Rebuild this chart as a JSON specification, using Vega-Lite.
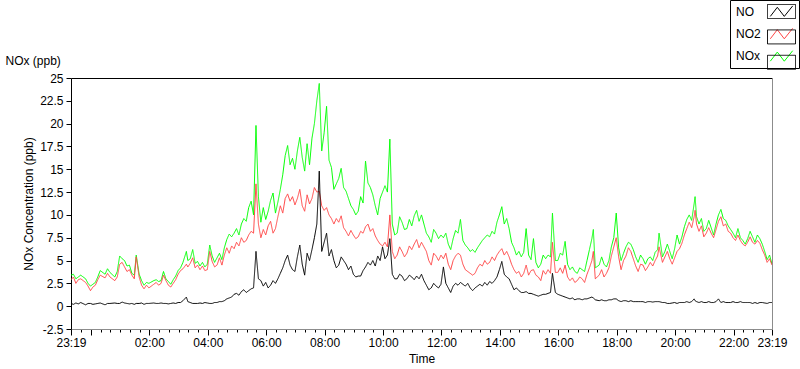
{
  "$schema": "https://vega.github.io/schema/vega-lite/v6.json",
  "width": 701,
  "height": 251,
  "autosize": "none",
  "padding": {"left": 71, "top": 78, "right": 28, "bottom": 40},
  "background": "white",
  "data": {"values": [
    {"t":"2024-01-01T23:19","NO":0.3,"NO2":2.9,"NOx":3.4},
    {"t":"2024-01-01T23:24","NO":0.2,"NO2":3.2,"NOx":3.5},
    {"t":"2024-01-01T23:29","NO":0.35,"NO2":2.5,"NOx":3.0},
    {"t":"2024-01-01T23:34","NO":0.25,"NO2":2.9,"NOx":3.2},
    {"t":"2024-01-01T23:39","NO":0.4,"NO2":3.0,"NOx":3.4},
    {"t":"2024-01-01T23:49","NO":0.15,"NO2":2.6,"NOx":3.0},
    {"t":"2024-01-01T23:54","NO":0.3,"NO2":2.2,"NOx":2.5},
    {"t":"2024-01-01T23:59","NO":0.3,"NO2":1.7,"NOx":2.2},
    {"t":"2024-01-02T00:04","NO":0.2,"NO2":2.1,"NOx":2.4},
    {"t":"2024-01-02T00:09","NO":0.25,"NO2":2.3,"NOx":2.6},
    {"t":"2024-01-02T00:14","NO":0.3,"NO2":2.9,"NOx":3.2},
    {"t":"2024-01-02T00:19","NO":0.35,"NO2":3.4,"NOx":3.9},
    {"t":"2024-01-02T00:29","NO":0.15,"NO2":3.1,"NOx":3.5},
    {"t":"2024-01-02T00:34","NO":0.3,"NO2":3.6,"NOx":4.1},
    {"t":"2024-01-02T00:39","NO":0.3,"NO2":3.2,"NOx":3.7},
    {"t":"2024-01-02T00:49","NO":0.35,"NO2":2.8,"NOx":3.2},
    {"t":"2024-01-02T00:54","NO":0.3,"NO2":3.2,"NOx":3.8},
    {"t":"2024-01-02T00:59","NO":0.3,"NO2":4.6,"NOx":5.5},
    {"t":"2024-01-02T01:04","NO":0.45,"NO2":4.8,"NOx":5.2},
    {"t":"2024-01-02T01:09","NO":0.35,"NO2":4.3,"NOx":5.0},
    {"t":"2024-01-02T01:14","NO":0.3,"NO2":3.8,"NOx":4.4},
    {"t":"2024-01-02T01:19","NO":0.25,"NO2":4.0,"NOx":4.5},
    {"t":"2024-01-02T01:24","NO":0.3,"NO2":3.4,"NOx":3.6},
    {"t":"2024-01-02T01:29","NO":0.2,"NO2":3.0,"NOx":3.4},
    {"t":"2024-01-02T01:33","NO":0.3,"NO2":5.4,"NOx":5.6},
    {"t":"2024-01-02T01:39","NO":0.3,"NO2":3.2,"NOx":3.5},
    {"t":"2024-01-02T01:44","NO":0.35,"NO2":2.3,"NOx":2.8},
    {"t":"2024-01-02T01:49","NO":0.2,"NO2":1.9,"NOx":2.3},
    {"t":"2024-01-02T01:54","NO":0.3,"NO2":2.3,"NOx":2.6},
    {"t":"2024-01-02T01:59","NO":0.3,"NO2":2.0,"NOx":2.5},
    {"t":"2024-01-02T02:09","NO":0.35,"NO2":2.4,"NOx":2.8},
    {"t":"2024-01-02T02:14","NO":0.3,"NO2":2.6,"NOx":2.9},
    {"t":"2024-01-02T02:19","NO":0.3,"NO2":2.3,"NOx":2.7},
    {"t":"2024-01-02T02:24","NO":0.35,"NO2":2.5,"NOx":2.8},
    {"t":"2024-01-02T02:29","NO":0.3,"NO2":3.4,"NOx":3.8},
    {"t":"2024-01-02T02:34","NO":0.3,"NO2":2.8,"NOx":3.0},
    {"t":"2024-01-02T02:39","NO":0.25,"NO2":2.3,"NOx":2.7},
    {"t":"2024-01-02T02:44","NO":0.3,"NO2":2.1,"NOx":2.4},
    {"t":"2024-01-02T02:49","NO":0.35,"NO2":2.5,"NOx":2.9},
    {"t":"2024-01-02T02:54","NO":0.3,"NO2":2.9,"NOx":3.3},
    {"t":"2024-01-02T02:59","NO":0.4,"NO2":3.5,"NOx":3.9},
    {"t":"2024-01-02T03:04","NO":0.4,"NO2":3.9,"NOx":4.2},
    {"t":"2024-01-02T03:09","NO":0.6,"NO2":4.1,"NOx":4.8},
    {"t":"2024-01-02T03:16","NO":1.0,"NO2":4.6,"NOx":6.0},
    {"t":"2024-01-02T03:19","NO":0.5,"NO2":4.3,"NOx":5.0},
    {"t":"2024-01-02T03:24","NO":0.4,"NO2":4.7,"NOx":5.2},
    {"t":"2024-01-02T03:29","NO":0.3,"NO2":5.3,"NOx":6.2},
    {"t":"2024-01-02T03:34","NO":0.3,"NO2":4.2,"NOx":4.7},
    {"t":"2024-01-02T03:39","NO":0.3,"NO2":4.5,"NOx":4.9},
    {"t":"2024-01-02T03:44","NO":0.35,"NO2":4.0,"NOx":4.4},
    {"t":"2024-01-02T03:49","NO":0.3,"NO2":4.4,"NOx":4.8},
    {"t":"2024-01-02T03:54","NO":0.4,"NO2":3.9,"NOx":4.3},
    {"t":"2024-01-02T03:59","NO":0.35,"NO2":4.0,"NOx":4.6},
    {"t":"2024-01-02T04:04","NO":0.3,"NO2":6.0,"NOx":6.7},
    {"t":"2024-01-02T04:09","NO":0.3,"NO2":4.9,"NOx":5.5},
    {"t":"2024-01-02T04:14","NO":0.4,"NO2":4.3,"NOx":4.8},
    {"t":"2024-01-02T04:19","NO":0.4,"NO2":4.5,"NOx":5.3},
    {"t":"2024-01-02T04:24","NO":0.5,"NO2":5.3,"NOx":5.8},
    {"t":"2024-01-02T04:29","NO":0.5,"NO2":4.5,"NOx":5.1},
    {"t":"2024-01-02T04:34","NO":0.6,"NO2":5.6,"NOx":6.4},
    {"t":"2024-01-02T04:39","NO":0.8,"NO2":6.4,"NOx":7.3},
    {"t":"2024-01-02T04:44","NO":0.9,"NO2":5.8,"NOx":7.9},
    {"t":"2024-01-02T04:49","NO":1.0,"NO2":6.6,"NOx":7.6},
    {"t":"2024-01-02T04:54","NO":1.3,"NO2":6.3,"NOx":8.0},
    {"t":"2024-01-02T04:59","NO":1.4,"NO2":7.0,"NOx":8.5},
    {"t":"2024-01-02T05:04","NO":1.2,"NO2":6.6,"NOx":7.8},
    {"t":"2024-01-02T05:09","NO":1.6,"NO2":7.5,"NOx":9.0},
    {"t":"2024-01-02T05:14","NO":1.8,"NO2":7.0,"NOx":9.6},
    {"t":"2024-01-02T05:19","NO":1.5,"NO2":7.2,"NOx":9.3},
    {"t":"2024-01-02T05:24","NO":1.7,"NO2":7.8,"NOx":10.8},
    {"t":"2024-01-02T05:29","NO":1.9,"NO2":8.2,"NOx":11.5},
    {"t":"2024-01-02T05:34","NO":2.0,"NO2":8.0,"NOx":10.0},
    {"t":"2024-01-02T05:39","NO":6.0,"NO2":13.4,"NOx":19.8},
    {"t":"2024-01-02T05:44","NO":3.0,"NO2":9.0,"NOx":12.0},
    {"t":"2024-01-02T05:49","NO":2.8,"NO2":7.5,"NOx":9.2},
    {"t":"2024-01-02T05:54","NO":2.2,"NO2":8.4,"NOx":10.8},
    {"t":"2024-01-02T05:59","NO":2.6,"NO2":7.8,"NOx":9.5},
    {"t":"2024-01-02T06:04","NO":2.0,"NO2":8.8,"NOx":10.4},
    {"t":"2024-01-02T06:09","NO":2.3,"NO2":9.3,"NOx":11.6},
    {"t":"2024-01-02T06:14","NO":2.8,"NO2":8.0,"NOx":12.4},
    {"t":"2024-01-02T06:19","NO":2.5,"NO2":8.5,"NOx":10.2},
    {"t":"2024-01-02T06:24","NO":3.0,"NO2":9.8,"NOx":11.4},
    {"t":"2024-01-02T06:29","NO":3.6,"NO2":11.0,"NOx":12.8},
    {"t":"2024-01-02T06:34","NO":4.2,"NO2":10.2,"NOx":14.4},
    {"t":"2024-01-02T06:39","NO":5.0,"NO2":11.8,"NOx":16.5},
    {"t":"2024-01-02T06:44","NO":5.6,"NO2":12.3,"NOx":17.6},
    {"t":"2024-01-02T06:49","NO":4.5,"NO2":11.5,"NOx":15.5},
    {"t":"2024-01-02T06:54","NO":4.0,"NO2":12.0,"NOx":16.2},
    {"t":"2024-01-02T06:59","NO":3.8,"NO2":11.1,"NOx":15.0},
    {"t":"2024-01-02T07:04","NO":5.4,"NO2":11.8,"NOx":17.0},
    {"t":"2024-01-02T07:09","NO":6.7,"NO2":12.8,"NOx":18.5},
    {"t":"2024-01-02T07:14","NO":4.6,"NO2":11.0,"NOx":16.3},
    {"t":"2024-01-02T07:19","NO":3.4,"NO2":10.4,"NOx":14.8},
    {"t":"2024-01-02T07:24","NO":5.8,"NO2":12.2,"NOx":17.8},
    {"t":"2024-01-02T07:29","NO":5.0,"NO2":11.2,"NOx":15.5},
    {"t":"2024-01-02T07:34","NO":6.2,"NO2":11.8,"NOx":18.4},
    {"t":"2024-01-02T07:39","NO":7.5,"NO2":13.0,"NOx":20.0},
    {"t":"2024-01-02T07:44","NO":9.0,"NO2":12.5,"NOx":22.5},
    {"t":"2024-01-02T07:49","NO":14.8,"NO2":12.6,"NOx":24.4},
    {"t":"2024-01-02T07:54","NO":6.0,"NO2":11.0,"NOx":17.0},
    {"t":"2024-01-02T07:59","NO":7.0,"NO2":10.5,"NOx":19.0},
    {"t":"2024-01-02T08:04","NO":8.0,"NO2":10.8,"NOx":21.9},
    {"t":"2024-01-02T08:09","NO":5.5,"NO2":10.0,"NOx":16.0},
    {"t":"2024-01-02T08:14","NO":6.2,"NO2":9.6,"NOx":15.2},
    {"t":"2024-01-02T08:19","NO":5.0,"NO2":9.0,"NOx":12.8},
    {"t":"2024-01-02T08:24","NO":4.2,"NO2":9.6,"NOx":13.4},
    {"t":"2024-01-02T08:29","NO":4.5,"NO2":9.2,"NOx":14.0},
    {"t":"2024-01-02T08:34","NO":5.4,"NO2":9.9,"NOx":15.1},
    {"t":"2024-01-02T08:39","NO":5.0,"NO2":8.6,"NOx":13.0},
    {"t":"2024-01-02T08:44","NO":4.6,"NO2":8.2,"NOx":12.6},
    {"t":"2024-01-02T08:49","NO":4.0,"NO2":7.7,"NOx":11.8},
    {"t":"2024-01-02T08:54","NO":4.4,"NO2":8.3,"NOx":11.0},
    {"t":"2024-01-02T08:59","NO":3.5,"NO2":7.8,"NOx":10.6},
    {"t":"2024-01-02T09:04","NO":3.2,"NO2":7.4,"NOx":10.0},
    {"t":"2024-01-02T09:09","NO":3.3,"NO2":7.6,"NOx":10.4},
    {"t":"2024-01-02T09:14","NO":3.3,"NO2":8.2,"NOx":12.0},
    {"t":"2024-01-02T09:19","NO":3.9,"NO2":8.0,"NOx":11.3},
    {"t":"2024-01-02T09:24","NO":4.3,"NO2":8.7,"NOx":15.9},
    {"t":"2024-01-02T09:29","NO":4.8,"NO2":9.0,"NOx":13.5},
    {"t":"2024-01-02T09:34","NO":4.5,"NO2":8.2,"NOx":13.0},
    {"t":"2024-01-02T09:39","NO":5.0,"NO2":8.5,"NOx":12.2},
    {"t":"2024-01-02T09:44","NO":4.4,"NO2":7.7,"NOx":11.0},
    {"t":"2024-01-02T09:49","NO":5.5,"NO2":7.2,"NOx":10.0},
    {"t":"2024-01-02T09:54","NO":5.0,"NO2":6.8,"NOx":11.8},
    {"t":"2024-01-02T09:59","NO":6.5,"NO2":6.6,"NOx":12.5},
    {"t":"2024-01-02T10:04","NO":5.2,"NO2":7.0,"NOx":13.2},
    {"t":"2024-01-02T10:09","NO":5.6,"NO2":6.5,"NOx":12.5},
    {"t":"2024-01-02T10:14","NO":7.4,"NO2":10.0,"NOx":18.3},
    {"t":"2024-01-02T10:19","NO":3.5,"NO2":6.0,"NOx":9.0},
    {"t":"2024-01-02T10:24","NO":3.0,"NO2":5.2,"NOx":7.8},
    {"t":"2024-01-02T10:29","NO":3.0,"NO2":5.6,"NOx":8.0},
    {"t":"2024-01-02T10:34","NO":3.5,"NO2":6.5,"NOx":9.8},
    {"t":"2024-01-02T10:39","NO":3.3,"NO2":6.0,"NOx":9.2},
    {"t":"2024-01-02T10:44","NO":2.8,"NO2":5.4,"NOx":8.4},
    {"t":"2024-01-02T10:49","NO":3.0,"NO2":5.8,"NOx":8.5},
    {"t":"2024-01-02T10:54","NO":3.4,"NO2":6.6,"NOx":9.5},
    {"t":"2024-01-02T10:59","NO":3.2,"NO2":6.2,"NOx":8.8},
    {"t":"2024-01-02T11:04","NO":2.9,"NO2":6.8,"NOx":9.9},
    {"t":"2024-01-02T11:09","NO":3.3,"NO2":7.3,"NOx":10.5},
    {"t":"2024-01-02T11:14","NO":3.0,"NO2":6.4,"NOx":9.3},
    {"t":"2024-01-02T11:19","NO":3.5,"NO2":7.0,"NOx":10.0},
    {"t":"2024-01-02T11:24","NO":2.8,"NO2":6.5,"NOx":9.0},
    {"t":"2024-01-02T11:29","NO":2.3,"NO2":6.0,"NOx":8.0},
    {"t":"2024-01-02T11:34","NO":1.8,"NO2":5.0,"NOx":7.6},
    {"t":"2024-01-02T11:39","NO":2.0,"NO2":4.5,"NOx":7.0},
    {"t":"2024-01-02T11:44","NO":2.5,"NO2":5.8,"NOx":8.4},
    {"t":"2024-01-02T11:49","NO":2.2,"NO2":5.5,"NOx":8.0},
    {"t":"2024-01-02T11:54","NO":2.0,"NO2":5.0,"NOx":7.4},
    {"t":"2024-01-02T11:59","NO":2.4,"NO2":5.6,"NOx":7.8},
    {"t":"2024-01-02T12:04","NO":4.3,"NO2":5.2,"NOx":7.5},
    {"t":"2024-01-02T12:09","NO":2.5,"NO2":5.8,"NOx":8.0},
    {"t":"2024-01-02T12:14","NO":2.0,"NO2":4.6,"NOx":6.8},
    {"t":"2024-01-02T12:19","NO":1.5,"NO2":4.0,"NOx":6.2},
    {"t":"2024-01-02T12:24","NO":2.2,"NO2":5.0,"NOx":7.4},
    {"t":"2024-01-02T12:29","NO":2.5,"NO2":5.5,"NOx":8.3},
    {"t":"2024-01-02T12:34","NO":2.3,"NO2":5.8,"NOx":8.0},
    {"t":"2024-01-02T12:39","NO":2.6,"NO2":5.6,"NOx":9.5},
    {"t":"2024-01-02T12:44","NO":2.4,"NO2":4.6,"NOx":7.2},
    {"t":"2024-01-02T12:49","NO":2.2,"NO2":4.0,"NOx":6.7},
    {"t":"2024-01-02T12:54","NO":2.5,"NO2":3.8,"NOx":6.4},
    {"t":"2024-01-02T12:59","NO":2.0,"NO2":3.6,"NOx":6.0},
    {"t":"2024-01-02T13:04","NO":1.7,"NO2":3.4,"NOx":6.2},
    {"t":"2024-01-02T13:09","NO":2.0,"NO2":3.6,"NOx":5.9},
    {"t":"2024-01-02T13:14","NO":2.2,"NO2":4.2,"NOx":6.4},
    {"t":"2024-01-02T13:19","NO":2.4,"NO2":4.6,"NOx":6.8},
    {"t":"2024-01-02T13:24","NO":2.2,"NO2":4.4,"NOx":7.2},
    {"t":"2024-01-02T13:29","NO":2.6,"NO2":5.0,"NOx":7.5},
    {"t":"2024-01-02T13:34","NO":2.3,"NO2":4.6,"NOx":7.8},
    {"t":"2024-01-02T13:39","NO":2.7,"NO2":4.8,"NOx":7.6},
    {"t":"2024-01-02T13:44","NO":2.5,"NO2":5.4,"NOx":8.2},
    {"t":"2024-01-02T13:49","NO":2.8,"NO2":5.0,"NOx":7.9},
    {"t":"2024-01-02T13:54","NO":3.2,"NO2":5.6,"NOx":9.2},
    {"t":"2024-01-02T13:59","NO":4.0,"NO2":6.0,"NOx":10.0},
    {"t":"2024-01-02T14:04","NO":4.9,"NO2":6.3,"NOx":10.9},
    {"t":"2024-01-02T14:09","NO":3.5,"NO2":5.6,"NOx":9.0},
    {"t":"2024-01-02T14:14","NO":3.2,"NO2":6.0,"NOx":9.6},
    {"t":"2024-01-02T14:19","NO":3.0,"NO2":5.4,"NOx":8.5},
    {"t":"2024-01-02T14:24","NO":2.4,"NO2":4.6,"NOx":7.0},
    {"t":"2024-01-02T14:29","NO":1.8,"NO2":4.0,"NOx":6.4},
    {"t":"2024-01-02T14:34","NO":2.0,"NO2":3.6,"NOx":5.6},
    {"t":"2024-01-02T14:39","NO":1.7,"NO2":3.8,"NOx":6.0},
    {"t":"2024-01-02T14:44","NO":1.5,"NO2":3.2,"NOx":5.4},
    {"t":"2024-01-02T14:49","NO":1.5,"NO2":3.6,"NOx":5.9},
    {"t":"2024-01-02T14:54","NO":1.6,"NO2":4.5,"NOx":8.5},
    {"t":"2024-01-02T14:59","NO":1.4,"NO2":3.4,"NOx":5.6},
    {"t":"2024-01-02T15:04","NO":1.4,"NO2":3.9,"NOx":5.1},
    {"t":"2024-01-02T15:09","NO":1.3,"NO2":4.0,"NOx":7.4},
    {"t":"2024-01-02T15:14","NO":1.2,"NO2":3.4,"NOx":4.8},
    {"t":"2024-01-02T15:19","NO":1.1,"NO2":3.2,"NOx":4.2},
    {"t":"2024-01-02T15:24","NO":1.2,"NO2":2.8,"NOx":4.6},
    {"t":"2024-01-02T15:29","NO":1.3,"NO2":3.9,"NOx":5.6},
    {"t":"2024-01-02T15:34","NO":1.3,"NO2":3.5,"NOx":5.2},
    {"t":"2024-01-02T15:39","NO":1.4,"NO2":4.0,"NOx":5.6},
    {"t":"2024-01-02T15:44","NO":1.5,"NO2":3.6,"NOx":5.4},
    {"t":"2024-01-02T15:48","NO":3.6,"NO2":7.0,"NOx":10.2},
    {"t":"2024-01-02T15:54","NO":1.5,"NO2":3.7,"NOx":5.0},
    {"t":"2024-01-02T15:59","NO":1.3,"NO2":3.7,"NOx":5.0},
    {"t":"2024-01-02T16:04","NO":1.2,"NO2":4.2,"NOx":5.8},
    {"t":"2024-01-02T16:09","NO":1.1,"NO2":3.6,"NOx":5.6},
    {"t":"2024-01-02T16:14","NO":1.0,"NO2":4.5,"NOx":7.1},
    {"t":"2024-01-02T16:19","NO":0.9,"NO2":3.2,"NOx":4.6},
    {"t":"2024-01-02T16:24","NO":0.8,"NO2":2.8,"NOx":4.0},
    {"t":"2024-01-02T16:29","NO":0.9,"NO2":3.1,"NOx":4.3},
    {"t":"2024-01-02T16:34","NO":0.7,"NO2":2.6,"NOx":3.8},
    {"t":"2024-01-02T16:39","NO":0.8,"NO2":2.8,"NOx":3.6},
    {"t":"2024-01-02T16:44","NO":0.8,"NO2":3.2,"NOx":4.2},
    {"t":"2024-01-02T16:49","NO":0.7,"NO2":3.0,"NOx":4.0},
    {"t":"2024-01-02T16:54","NO":0.8,"NO2":2.6,"NOx":3.8},
    {"t":"2024-01-02T16:59","NO":0.8,"NO2":3.5,"NOx":5.0},
    {"t":"2024-01-02T17:04","NO":0.9,"NO2":4.2,"NOx":6.2},
    {"t":"2024-01-02T17:09","NO":1.0,"NO2":5.0,"NOx":7.4},
    {"t":"2024-01-02T17:12","NO":0.9,"NO2":6.0,"NOx":8.4},
    {"t":"2024-01-02T17:16","NO":0.7,"NO2":3.0,"NOx":4.2},
    {"t":"2024-01-02T17:24","NO":0.6,"NO2":3.4,"NOx":4.5},
    {"t":"2024-01-02T17:29","NO":0.7,"NO2":4.0,"NOx":5.4},
    {"t":"2024-01-02T17:34","NO":0.6,"NO2":3.2,"NOx":4.6},
    {"t":"2024-01-02T17:39","NO":0.6,"NO2":3.6,"NOx":4.3},
    {"t":"2024-01-02T17:44","NO":0.7,"NO2":4.2,"NOx":5.0},
    {"t":"2024-01-02T17:49","NO":0.7,"NO2":5.5,"NOx":6.5},
    {"t":"2024-01-02T17:54","NO":0.8,"NO2":6.5,"NOx":7.5},
    {"t":"2024-01-02T17:59","NO":0.8,"NO2":7.5,"NOx":10.2},
    {"t":"2024-01-02T18:04","NO":0.6,"NO2":5.4,"NOx":6.4},
    {"t":"2024-01-02T18:09","NO":0.5,"NO2":4.0,"NOx":5.0},
    {"t":"2024-01-02T18:14","NO":0.6,"NO2":5.0,"NOx":5.8},
    {"t":"2024-01-02T18:19","NO":0.6,"NO2":5.5,"NOx":6.5},
    {"t":"2024-01-02T18:24","NO":0.5,"NO2":6.4,"NOx":7.0},
    {"t":"2024-01-02T18:29","NO":0.6,"NO2":6.0,"NOx":6.8},
    {"t":"2024-01-02T18:34","NO":0.5,"NO2":5.2,"NOx":6.2},
    {"t":"2024-01-02T18:39","NO":0.5,"NO2":4.4,"NOx":5.4},
    {"t":"2024-01-02T18:44","NO":0.5,"NO2":3.8,"NOx":4.8},
    {"t":"2024-01-02T18:49","NO":0.5,"NO2":4.6,"NOx":5.6},
    {"t":"2024-01-02T18:54","NO":0.5,"NO2":4.5,"NOx":5.2},
    {"t":"2024-01-02T18:59","NO":0.4,"NO2":3.9,"NOx":4.6},
    {"t":"2024-01-02T19:04","NO":0.5,"NO2":4.3,"NOx":5.2},
    {"t":"2024-01-02T19:09","NO":0.5,"NO2":4.8,"NOx":5.4},
    {"t":"2024-01-02T19:14","NO":0.45,"NO2":4.4,"NOx":5.0},
    {"t":"2024-01-02T19:19","NO":0.5,"NO2":5.0,"NOx":5.9},
    {"t":"2024-01-02T19:24","NO":0.5,"NO2":5.5,"NOx":6.2},
    {"t":"2024-01-02T19:27","NO":0.5,"NO2":6.5,"NOx":8.0},
    {"t":"2024-01-02T19:34","NO":0.4,"NO2":4.8,"NOx":5.4},
    {"t":"2024-01-02T19:39","NO":0.4,"NO2":5.4,"NOx":6.0},
    {"t":"2024-01-02T19:44","NO":0.3,"NO2":6.0,"NOx":6.8},
    {"t":"2024-01-02T19:49","NO":0.3,"NO2":5.2,"NOx":6.0},
    {"t":"2024-01-02T19:54","NO":0.35,"NO2":4.6,"NOx":5.2},
    {"t":"2024-01-02T19:59","NO":0.4,"NO2":5.3,"NOx":6.3},
    {"t":"2024-01-02T20:04","NO":0.3,"NO2":6.0,"NOx":7.8},
    {"t":"2024-01-02T20:09","NO":0.4,"NO2":6.3,"NOx":6.8},
    {"t":"2024-01-02T20:14","NO":0.4,"NO2":6.9,"NOx":7.6},
    {"t":"2024-01-02T20:19","NO":0.4,"NO2":7.8,"NOx":8.7},
    {"t":"2024-01-02T20:24","NO":0.5,"NO2":8.5,"NOx":9.5},
    {"t":"2024-01-02T20:29","NO":0.4,"NO2":9.2,"NOx":10.0},
    {"t":"2024-01-02T20:34","NO":0.5,"NO2":8.6,"NOx":9.4},
    {"t":"2024-01-02T20:39","NO":0.8,"NO2":9.8,"NOx":11.2},
    {"t":"2024-01-02T20:41","NO":0.6,"NO2":10.5,"NOx":12.0},
    {"t":"2024-01-02T20:44","NO":0.5,"NO2":9.0,"NOx":9.8},
    {"t":"2024-01-02T20:49","NO":0.4,"NO2":8.2,"NOx":9.0},
    {"t":"2024-01-02T20:54","NO":0.5,"NO2":8.8,"NOx":9.6},
    {"t":"2024-01-02T20:59","NO":0.4,"NO2":7.6,"NOx":8.2},
    {"t":"2024-01-02T21:04","NO":0.4,"NO2":8.0,"NOx":8.5},
    {"t":"2024-01-02T21:09","NO":0.5,"NO2":8.6,"NOx":9.4},
    {"t":"2024-01-02T21:14","NO":0.4,"NO2":8.0,"NOx":8.6},
    {"t":"2024-01-02T21:19","NO":0.4,"NO2":7.5,"NOx":7.8},
    {"t":"2024-01-02T21:24","NO":0.5,"NO2":8.4,"NOx":9.0},
    {"t":"2024-01-02T21:29","NO":0.8,"NO2":9.3,"NOx":10.0},
    {"t":"2024-01-02T21:34","NO":0.4,"NO2":9.8,"NOx":10.6},
    {"t":"2024-01-02T21:39","NO":0.5,"NO2":8.8,"NOx":9.6},
    {"t":"2024-01-02T21:44","NO":0.4,"NO2":9.0,"NOx":9.4},
    {"t":"2024-01-02T21:49","NO":0.4,"NO2":8.2,"NOx":8.8},
    {"t":"2024-01-02T21:54","NO":0.4,"NO2":8.0,"NOx":8.4},
    {"t":"2024-01-02T21:59","NO":0.5,"NO2":7.5,"NOx":8.0},
    {"t":"2024-01-02T22:04","NO":0.4,"NO2":7.2,"NOx":7.5},
    {"t":"2024-01-02T22:09","NO":0.4,"NO2":7.8,"NOx":8.5},
    {"t":"2024-01-02T22:14","NO":0.5,"NO2":7.2,"NOx":7.5},
    {"t":"2024-01-02T22:19","NO":0.4,"NO2":6.8,"NOx":7.2},
    {"t":"2024-01-02T22:24","NO":0.4,"NO2":6.6,"NOx":6.8},
    {"t":"2024-01-02T22:29","NO":0.4,"NO2":7.0,"NOx":7.4},
    {"t":"2024-01-02T22:34","NO":0.4,"NO2":7.6,"NOx":8.2},
    {"t":"2024-01-02T22:39","NO":0.3,"NO2":7.0,"NOx":7.6},
    {"t":"2024-01-02T22:44","NO":0.4,"NO2":6.8,"NOx":7.0},
    {"t":"2024-01-02T22:49","NO":0.3,"NO2":7.2,"NOx":7.8},
    {"t":"2024-01-02T22:54","NO":0.4,"NO2":6.9,"NOx":7.4},
    {"t":"2024-01-02T22:59","NO":0.4,"NO2":6.2,"NOx":6.8},
    {"t":"2024-01-02T23:04","NO":0.35,"NO2":5.6,"NOx":6.0},
    {"t":"2024-01-02T23:09","NO":0.3,"NO2":4.8,"NOx":5.1},
    {"t":"2024-01-02T23:14","NO":0.4,"NO2":5.2,"NOx":5.6},
    {"t":"2024-01-02T23:19","NO":0.4,"NO2":4.5,"NOx":4.6}
  ]},
  "encoding": {
    "x": {
      "field": "t", "type": "temporal", "title": "Time",
      "scale": {"domain": [{"year":2024,"month":1,"date":1,"hours":23,"minutes":19},{"year":2024,"month":1,"date":2,"hours":23,"minutes":19}], "nice": false},
      "axis": {
        "values": [
          {"year":2024,"month":1,"date":1,"hours":23,"minutes":19},
          {"year":2024,"month":1,"date":1,"hours":23,"minutes":40},
          {"year":2024,"month":1,"date":2,"hours":0,"minutes":0},{"year":2024,"month":1,"date":2,"hours":0,"minutes":20},{"year":2024,"month":1,"date":2,"hours":0,"minutes":40},
          {"year":2024,"month":1,"date":2,"hours":1,"minutes":0},{"year":2024,"month":1,"date":2,"hours":1,"minutes":20},{"year":2024,"month":1,"date":2,"hours":1,"minutes":40},
          {"year":2024,"month":1,"date":2,"hours":2,"minutes":0},{"year":2024,"month":1,"date":2,"hours":2,"minutes":20},{"year":2024,"month":1,"date":2,"hours":2,"minutes":40},
          {"year":2024,"month":1,"date":2,"hours":3,"minutes":0},{"year":2024,"month":1,"date":2,"hours":3,"minutes":20},{"year":2024,"month":1,"date":2,"hours":3,"minutes":40},
          {"year":2024,"month":1,"date":2,"hours":4,"minutes":0},{"year":2024,"month":1,"date":2,"hours":4,"minutes":20},{"year":2024,"month":1,"date":2,"hours":4,"minutes":40},
          {"year":2024,"month":1,"date":2,"hours":5,"minutes":0},{"year":2024,"month":1,"date":2,"hours":5,"minutes":20},{"year":2024,"month":1,"date":2,"hours":5,"minutes":40},
          {"year":2024,"month":1,"date":2,"hours":6,"minutes":0},{"year":2024,"month":1,"date":2,"hours":6,"minutes":20},{"year":2024,"month":1,"date":2,"hours":6,"minutes":40},
          {"year":2024,"month":1,"date":2,"hours":7,"minutes":0},{"year":2024,"month":1,"date":2,"hours":7,"minutes":20},{"year":2024,"month":1,"date":2,"hours":7,"minutes":40},
          {"year":2024,"month":1,"date":2,"hours":8,"minutes":0},{"year":2024,"month":1,"date":2,"hours":8,"minutes":20},{"year":2024,"month":1,"date":2,"hours":8,"minutes":40},
          {"year":2024,"month":1,"date":2,"hours":9,"minutes":0},{"year":2024,"month":1,"date":2,"hours":9,"minutes":20},{"year":2024,"month":1,"date":2,"hours":9,"minutes":40},
          {"year":2024,"month":1,"date":2,"hours":10,"minutes":0},{"year":2024,"month":1,"date":2,"hours":10,"minutes":20},{"year":2024,"month":1,"date":2,"hours":10,"minutes":40},
          {"year":2024,"month":1,"date":2,"hours":11,"minutes":0},{"year":2024,"month":1,"date":2,"hours":11,"minutes":20},{"year":2024,"month":1,"date":2,"hours":11,"minutes":40},
          {"year":2024,"month":1,"date":2,"hours":12,"minutes":0},{"year":2024,"month":1,"date":2,"hours":12,"minutes":20},{"year":2024,"month":1,"date":2,"hours":12,"minutes":40},
          {"year":2024,"month":1,"date":2,"hours":13,"minutes":0},{"year":2024,"month":1,"date":2,"hours":13,"minutes":20},{"year":2024,"month":1,"date":2,"hours":13,"minutes":40},
          {"year":2024,"month":1,"date":2,"hours":14,"minutes":0},{"year":2024,"month":1,"date":2,"hours":14,"minutes":20},{"year":2024,"month":1,"date":2,"hours":14,"minutes":40},
          {"year":2024,"month":1,"date":2,"hours":15,"minutes":0},{"year":2024,"month":1,"date":2,"hours":15,"minutes":20},{"year":2024,"month":1,"date":2,"hours":15,"minutes":40},
          {"year":2024,"month":1,"date":2,"hours":16,"minutes":0},{"year":2024,"month":1,"date":2,"hours":16,"minutes":20},{"year":2024,"month":1,"date":2,"hours":16,"minutes":40},
          {"year":2024,"month":1,"date":2,"hours":17,"minutes":0},{"year":2024,"month":1,"date":2,"hours":17,"minutes":20},{"year":2024,"month":1,"date":2,"hours":17,"minutes":40},
          {"year":2024,"month":1,"date":2,"hours":18,"minutes":0},{"year":2024,"month":1,"date":2,"hours":18,"minutes":20},{"year":2024,"month":1,"date":2,"hours":18,"minutes":40},
          {"year":2024,"month":1,"date":2,"hours":19,"minutes":0},{"year":2024,"month":1,"date":2,"hours":19,"minutes":20},{"year":2024,"month":1,"date":2,"hours":19,"minutes":40},
          {"year":2024,"month":1,"date":2,"hours":20,"minutes":0},{"year":2024,"month":1,"date":2,"hours":20,"minutes":20},{"year":2024,"month":1,"date":2,"hours":20,"minutes":40},
          {"year":2024,"month":1,"date":2,"hours":21,"minutes":0},{"year":2024,"month":1,"date":2,"hours":21,"minutes":20},{"year":2024,"month":1,"date":2,"hours":21,"minutes":40},
          {"year":2024,"month":1,"date":2,"hours":22,"minutes":0},{"year":2024,"month":1,"date":2,"hours":22,"minutes":20},{"year":2024,"month":1,"date":2,"hours":22,"minutes":40},
          {"year":2024,"month":1,"date":2,"hours":23,"minutes":0},
          {"year":2024,"month":1,"date":2,"hours":23,"minutes":19}
        ],
        "labelExpr": "(minutes(datum.value) == 19 || (minutes(datum.value) == 0 && hours(datum.value) % 2 == 0 && hours(datum.value) != 0)) ? timeFormat(datum.value, '%H:%M') : ''",
        "tickSize": {"condition": {"test": "minutes(datum.value) == 19 || (minutes(datum.value) == 0 && hours(datum.value) % 2 == 0)", "value": 6}, "value": 3}
      }
    }
  },
  "layer": [
    {
      "layer": [
        {
          "mark": {"type": "line", "strokeWidth": 1, "interpolate": "linear", "clip": true},
          "encoding": {
            "y": {"field": "NOx", "type": "quantitative", "title": "NOx Concentration (ppb)", "scale": {"domain": [-2.5, 25], "nice": false, "zero": false}, "axis": {"values": [-2.5, 0, 2.5, 5, 7.5, 10, 12.5, 15, 17.5, 20, 22.5, 25], "labelExpr": "datum.value + ''"}},
            "color": {"datum": "NOx", "scale": {"domain": ["NO", "NO2", "NOx"], "range": ["#000000", "#ff4545", "#00ff00"]}, "legend": {"symbolType": "M-1.6,0.7L-0.6,-0.6L0.4,0.7L1.6,-0.8", "symbolStrokeWidth": 1, "strokeColor": "#000000", "fillColor": "#ffffff"}},
            "strokeDash": {"datum": "b3", "scale": {"domain": ["b1", "b2", "b3"], "range": [[1, 0], [1, 0], [1, 0]]}, "legend": {"symbolType": "M-2,-1L2,-1L2,1L-2,1Z", "symbolStrokeColor": "#000000", "symbolFillColor": "transparent", "labelExpr": "''"}}
          }
        },
        {
          "mark": {"type": "line", "strokeWidth": 1, "interpolate": "linear", "clip": true},
          "encoding": {
            "y": {"field": "NO2", "type": "quantitative", "title": "NOx Concentration (ppb)", "scale": {"domain": [-2.5, 25], "nice": false, "zero": false}, "axis": {"values": [-2.5, 0, 2.5, 5, 7.5, 10, 12.5, 15, 17.5, 20, 22.5, 25], "labelExpr": "datum.value + ''"}},
            "color": {"datum": "NO2", "scale": {"domain": ["NO", "NO2", "NOx"], "range": ["#000000", "#ff4545", "#00ff00"]}, "legend": {"symbolType": "M-1.6,0.7L-0.6,-0.6L0.4,0.7L1.6,-0.8", "symbolStrokeWidth": 1, "strokeColor": "#000000", "fillColor": "#ffffff"}},
            "strokeDash": {"datum": "b2", "scale": {"domain": ["b1", "b2", "b3"], "range": [[1, 0], [1, 0], [1, 0]]}, "legend": {"symbolType": "M-2,-1L2,-1L2,1L-2,1Z", "symbolStrokeColor": "#000000", "symbolFillColor": "transparent", "labelExpr": "''"}}
          }
        },
        {
          "mark": {"type": "line", "strokeWidth": 1, "interpolate": "linear", "clip": true},
          "encoding": {
            "y": {"field": "NO", "type": "quantitative", "title": "NOx Concentration (ppb)", "scale": {"domain": [-2.5, 25], "nice": false, "zero": false}, "axis": {"values": [-2.5, 0, 2.5, 5, 7.5, 10, 12.5, 15, 17.5, 20, 22.5, 25], "labelExpr": "datum.value + ''"}},
            "color": {"datum": "NO", "scale": {"domain": ["NO", "NO2", "NOx"], "range": ["#000000", "#ff4545", "#00ff00"]}, "legend": {"symbolType": "M-1.6,0.7L-0.6,-0.6L0.4,0.7L1.6,-0.8", "symbolStrokeWidth": 1, "strokeColor": "#000000", "fillColor": "#ffffff"}},
            "strokeDash": {"datum": "b1", "scale": {"domain": ["b1", "b2", "b3"], "range": [[1, 0], [1, 0], [1, 0]]}, "legend": {"symbolType": "M-2,-1L2,-1L2,1L-2,1Z", "symbolStrokeColor": "#000000", "symbolFillColor": "transparent", "labelExpr": "''"}}
          }
        }
      ]
    },
    {
      "mark": {"type": "line", "opacity": 0},
      "encoding": {
        "x": {"field": "t", "type": "temporal", "title": "NOx (ppb)", "scale": {"domain": [{"year":2024,"month":1,"date":1,"hours":23,"minutes":19},{"year":2024,"month":1,"date":2,"hours":23,"minutes":19}], "nice": false}, "axis": {"orient": "top", "titleAnchor": "start", "titleAlign": "left", "titleX": -66, "titleY": -14, "titleBaseline": "alphabetic"}},
        "y": {"field": "NO", "type": "quantitative", "title": null, "scale": {"domain": [-2.5, 25], "nice": false, "zero": false}, "axis": {"orient": "right"}}
      }
    }
  ],
  "resolve": {"axis": {"x": "independent", "y": "independent"}},
  "config": {
    "view": {"stroke": null},
    "font": "Liberation Sans",
    "axis": {"labelFont": "Liberation Sans", "labelFontSize": 12, "labelColor": "#000000", "titleFont": "Liberation Sans", "titleFontSize": 12, "titleFontWeight": "normal", "titleColor": "#000000", "grid": false, "tickColor": "#000000", "domainWidth": 1, "tickWidth": 1},
    "axisBottom": {"domainColor": "#8c8c8c", "labelPadding": 2, "titlePadding": 5, "labelOverlap": false, "labelBound": false, "labelFlush": false},
    "axisLeft": {"domainColor": "#000000", "tickSize": 5, "labelPadding": 3, "titlePadding": 4, "labelOverlap": false},
    "axisTop": {"domainColor": "#000000", "ticks": false, "labels": false},
    "axisRight": {"domainColor": "#8c8c8c", "ticks": false, "labels": false},
    "legend": {"orient": "none", "legendX": 659, "legendY": -78, "title": null, "symbolSize": 196, "symbolStrokeWidth": 1, "symbolOffset": 40, "labelOffset": -53, "rowPadding": 6.4, "padding": 4, "labelFont": "Liberation Sans", "labelFontSize": 12, "labelColor": "#000000"}
  }
}
